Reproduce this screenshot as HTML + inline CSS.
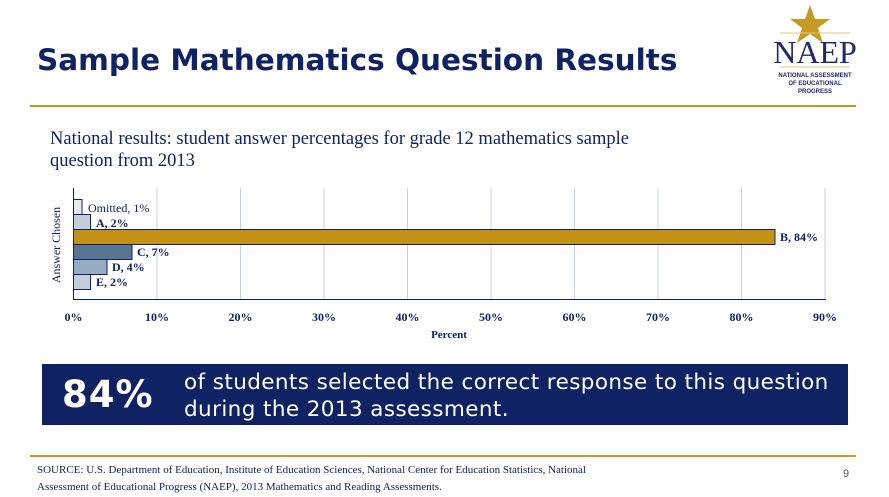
<!DOCTYPE html>
<html><head><style>
body{margin:0;width:889px;height:497px;background:#fff;position:relative;overflow:hidden;font-family:"Liberation Serif","Times New Roman",serif}
.a{position:absolute}
</style></head><body>
<div class="a" style="left:37px;top:43px;font:bold 29.5px 'DejaVu Sans',Verdana,sans-serif;color:#0f2263;white-space:nowrap">Sample Mathematics Question Results</div>
<div class="a" style="left:30px;top:105px;width:826px;height:2px;background:#c49a22"></div>
<svg class="a" style="left:770px;top:3px" width="90" height="97">
<polygon points="40,2 45,16 60,16 48,25 53,40 40,31 27,40 32,25 20,16 35,16" fill="#c49a22"/>
<line x1="10" y1="30" x2="80" y2="30" stroke="#e0c879" stroke-width="1"/>
<text x="45" y="60" text-anchor="middle" font-family="Liberation Serif" font-size="32" fill="#1d2a6b">NAEP</text>
<line x1="10" y1="64" x2="80" y2="64" stroke="#e0c879" stroke-width="1"/>
<text x="45" y="74" text-anchor="middle" font-family="Liberation Sans" font-size="6" font-weight="bold" fill="#1d2a6b">NATIONAL ASSESSMENT</text>
<text x="45" y="82" text-anchor="middle" font-family="Liberation Sans" font-size="6" font-weight="bold" fill="#1d2a6b">OF EDUCATIONAL</text>
<text x="45" y="90" text-anchor="middle" font-family="Liberation Sans" font-size="6" font-weight="bold" fill="#1d2a6b">PROGRESS</text>
</svg>
<div class="a" style="left:50px;top:128px;font-size:18.5px;color:#0f2263;line-height:22px;white-space:nowrap">National results: student answer percentages for grade 12 mathematics sample<br>question from 2013</div>
<svg class="a" style="left:0;top:0;font-family:'Liberation Serif','Times New Roman',serif" width="889" height="497" fill="#0f2263">
<g stroke="#c6d2f5" stroke-width="1">
<line x1="157" y1="188" x2="157" y2="299"/><line x1="240.5" y1="188" x2="240.5" y2="299"/><line x1="324" y1="188" x2="324" y2="299"/><line x1="407.5" y1="188" x2="407.5" y2="299"/><line x1="491" y1="188" x2="491" y2="299"/><line x1="574.5" y1="188" x2="574.5" y2="299"/><line x1="658" y1="188" x2="658" y2="299"/><line x1="741.5" y1="188" x2="741.5" y2="299"/><line x1="825" y1="188" x2="825" y2="299"/>
</g>
<g stroke="#0f2263" stroke-width="1">
<rect x="73.5" y="199.5" width="8.5" height="15" fill="#e8ebf1"/>
<rect x="73.5" y="214.5" width="17" height="15" fill="#c3cedb"/>
<rect x="73.5" y="229.5" width="701.5" height="15" fill="#c49116"/>
<rect x="73.5" y="244.5" width="58.5" height="15" fill="#5a7592"/>
<rect x="73.5" y="259.5" width="33.5" height="15" fill="#97acc3"/>
<rect x="73.5" y="274.5" width="17" height="15" fill="#c3cedb"/>
</g>
<line x1="73.5" y1="188" x2="73.5" y2="300" stroke="#0f2263"/>
<line x1="73" y1="299.5" x2="826" y2="299.5" stroke="#0f2263"/>
<g font-size="12" font-weight="bold">
<text x="88" y="212" font-weight="normal">Omitted, 1%</text>
<text x="96" y="227">A, 2%</text>
<text x="780" y="241">B, 84%</text>
<text x="137" y="256">C, 7%</text>
<text x="112" y="271">D, 4%</text>
<text x="96" y="286">E, 2%</text>
</g>
<text transform="translate(60,245) rotate(-90)" text-anchor="middle" font-size="12">Answer Chosen</text>
<g font-size="12" font-weight="bold" text-anchor="middle">
<text x="73.5" y="321">0%</text><text x="157" y="321">10%</text><text x="240.5" y="321">20%</text><text x="324" y="321">30%</text><text x="407.5" y="321">40%</text><text x="491" y="321">50%</text><text x="574.5" y="321">60%</text><text x="658" y="321">70%</text><text x="741.5" y="321">80%</text><text x="825" y="321">90%</text>
<text x="449" y="338" font-size="11">Percent</text>
</g>
</svg>
<div class="a" style="left:42px;top:364px;width:806px;height:61px;background:#0f2263"></div>
<div class="a" style="left:62px;top:373px;font:bold 37px 'DejaVu Sans',Verdana,sans-serif;color:#fff;letter-spacing:1px">84%</div>
<div class="a" style="left:184px;top:369px;font:21.5px 'DejaVu Sans',Verdana,sans-serif;color:#fff;line-height:27px;white-space:nowrap;letter-spacing:0.4px">of students selected the correct response to this question<br>during the 2013 assessment.</div>
<div class="a" style="left:30px;top:455px;width:826px;height:2px;background:#c49a22"></div>
<div class="a" style="left:37px;top:462px;font-size:11px;color:#0f2263;line-height:17px;white-space:nowrap">SOURCE: U.S. Department of Education, Institute of Education Sciences, National Center for Education Statistics, National<br>Assessment of Educational Progress (NAEP), 2013 Mathematics and Reading Assessments.</div>
<div class="a" style="left:843px;top:468px;font:11px 'Liberation Sans',sans-serif;color:#555">9</div>
</body></html>
